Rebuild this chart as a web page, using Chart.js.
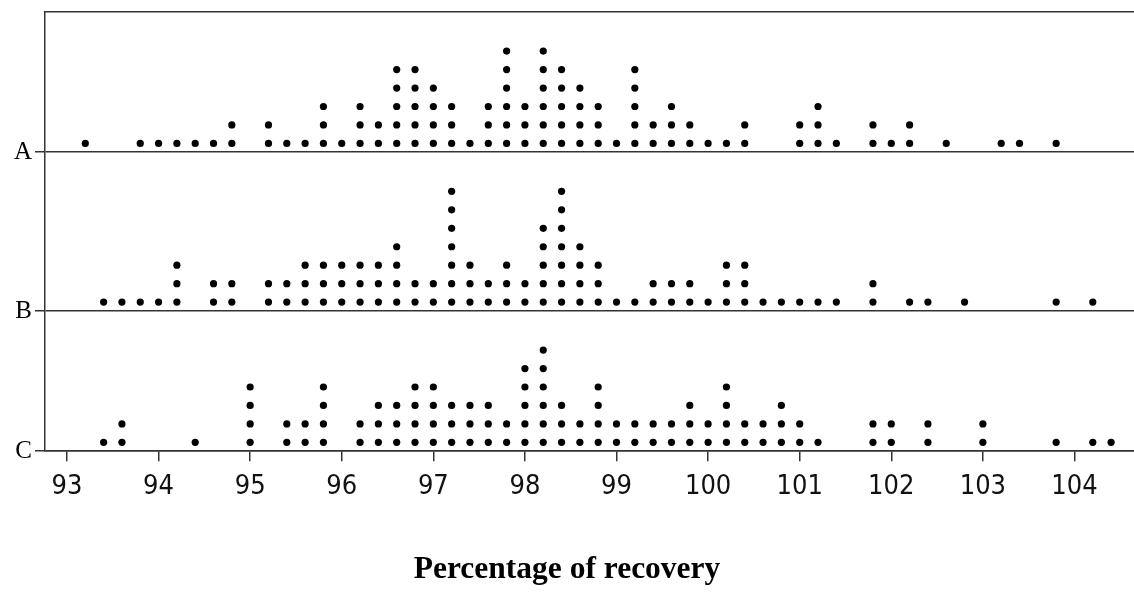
<!DOCTYPE html>
<html>
<head>
<meta charset="utf-8">
<title>Percentage of recovery</title>
<script src="https://cdn.jsdelivr.net/npm/chart.js@4.4.1/dist/chart.umd.min.js"></script>
<style>
    body { margin: 0; background: #fff; }
    .chart-box { width: 1134px; height: 595px; position: relative; }
</style>
</head>
<body>
<div class="chart-box">
    <canvas id="dot-chart"></canvas>
</div>
<script>
// Data: recovery value of each dot column and how many dots sit in it
const aValues = [93.2, 93.8, 94.0, 94.2, 94.4, 94.6, 94.8, 95.2, 95.4, 95.6, 95.8, 96.0, 96.2, 96.4, 96.6, 96.8, 97.0, 97.2, 97.4, 97.6, 97.8, 98.0, 98.2, 98.4, 98.6, 98.8, 99.0, 99.2, 99.4, 99.6, 99.8, 100.0, 100.2, 100.4, 101.0, 101.2, 101.4, 101.8, 102.0, 102.2, 102.6, 103.2, 103.4, 103.8];
const aCounts = [1, 1, 1, 1, 1, 1, 2, 2, 1, 1, 3, 1, 3, 2, 5, 5, 4, 3, 1, 3, 6, 3, 6, 5, 4, 3, 1, 5, 2, 3, 2, 1, 1, 2, 2, 3, 1, 2, 1, 2, 1, 1, 1, 1];

const bValues = [93.4, 93.6, 93.8, 94.0, 94.2, 94.6, 94.8, 95.2, 95.4, 95.6, 95.8, 96.0, 96.2, 96.4, 96.6, 96.8, 97.0, 97.2, 97.4, 97.6, 97.8, 98.0, 98.2, 98.4, 98.6, 98.8, 99.0, 99.2, 99.4, 99.6, 99.8, 100.0, 100.2, 100.4, 100.6, 100.8, 101.0, 101.2, 101.4, 101.8, 102.2, 102.4, 102.8, 103.8, 104.2];
const bCounts = [1, 1, 1, 1, 3, 2, 2, 2, 2, 3, 3, 3, 3, 3, 4, 2, 2, 7, 3, 2, 3, 2, 5, 7, 4, 3, 1, 1, 2, 2, 2, 1, 3, 3, 1, 1, 1, 1, 1, 2, 1, 1, 1, 1, 1];

const cValues = [93.4, 93.6, 94.4, 95.0, 95.4, 95.6, 95.8, 96.2, 96.4, 96.6, 96.8, 97.0, 97.2, 97.4, 97.6, 97.8, 98.0, 98.2, 98.4, 98.6, 98.8, 99.0, 99.2, 99.4, 99.6, 99.8, 100.0, 100.2, 100.4, 100.6, 100.8, 101.0, 101.2, 101.8, 102.0, 102.4, 103.0, 103.8, 104.2, 104.4];
const cCounts = [1, 2, 1, 4, 2, 2, 4, 2, 3, 3, 4, 4, 3, 3, 3, 2, 5, 6, 3, 2, 4, 2, 2, 2, 2, 3, 2, 4, 2, 2, 3, 2, 1, 2, 2, 2, 2, 1, 1, 1];

const groupLabels = ["C", "B", "A"];
const xTicks = [93, 94, 95, 96, 97, 98, 99, 100, 101, 102, 103, 104];

// Layout of the stacked strips (in dot rows)
const stripBase = [0, 7.6, 16.2];
const yTop = 23.8;
const lineColor = '#333';

// one point per dot, stacked upward from the strip's base line
const buildDots = (values, counts, base) => {
    const pts = [];
    for (let i = 0; i < values.length; i++) {
        for (let k = 0; k < counts[i]; k++) {
            pts.push({ x: values[i], y: base + k + 0.48 });
        }
    }
    return pts;
};

const dotStyle = {
    backgroundColor: '#000',
    borderWidth: 0,
    pointRadius: 3.6,
    pointHoverRadius: 3.6
};

const dotData = {
    datasets: [
        { label: 'C', data: buildDots(cValues, cCounts, stripBase[0]), ...dotStyle },
        { label: 'B', data: buildDots(bValues, bCounts, stripBase[1]), ...dotStyle },
        { label: 'A', data: buildDots(aValues, aCounts, stripBase[2]), ...dotStyle }
    ]
};

const dotOptions = {
    responsive: true,
    maintainAspectRatio: false,
    animation: false,
    layout: {
        autoPadding: false,
        padding: 0
    },
    scales: {
        x: {
            type: 'linear',
            min: 92.76,
            max: 104.65,
            afterBuildTicks: axis => {
                axis.ticks = xTicks.map(v => ({ value: v }));
            },
            afterFit: axis => {
                axis.height = 100;
            },
            ticks: {
                color: '#111',
                padding: 10,
                font: { family: "'DejaVu Sans Condensed', 'DejaVu Sans', sans-serif", size: 27 },
                callback: v => v
            },
            grid: {
                drawOnChartArea: false,
                tickLength: 10,
                color: lineColor,
                lineWidth: 1.5
            },
            border: { color: lineColor, width: 1.5 }
        },
        xTop: {
            type: 'linear',
            position: 'top',
            min: 92.76,
            max: 104.65,
            afterFit: axis => {
                axis.height = 12;
            },
            ticks: { display: false },
            grid: { display: false },
            border: { color: lineColor, width: 1.5 }
        },
        y: {
            min: 0,
            max: yTop,
            afterBuildTicks: axis => {
                axis.ticks = stripBase.map(v => ({ value: v }));
            },
            afterFit: axis => {
                axis.width = 45;
            },
            ticks: {
                color: '#000',
                padding: 3,
                font: { family: "'Liberation Serif', 'Times New Roman', serif", size: 25, lineHeight: 0.7 },
                callback: (v, i) => groupLabels[i]
            },
            grid: {
                color: lineColor,
                lineWidth: 1.5,
                tickLength: 10
            },
            border: { color: lineColor, width: 1.5 }
        }
    },
    plugins: {
        legend: { display: false },
        tooltip: { enabled: false },
        title: {
            display: true,
            position: 'bottom',
            text: 'Percentage of recovery',
            color: '#000',
            font: { family: "'Liberation Serif', 'Times New Roman', serif", size: 31.5, weight: 'bold' },
            padding: { top: 0, bottom: 6 }
        }
    }
};

let dotChart = new Chart(document.getElementById('dot-chart'), {
    type: 'scatter',
    data: dotData,
    options: dotOptions
});
</script>
</body>
</html>
